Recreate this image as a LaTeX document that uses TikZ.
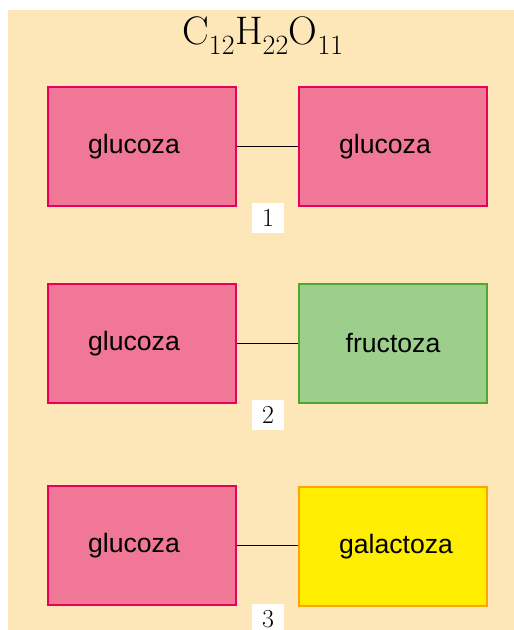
\documentclass[tikz,border=0pt]{standalone}
\usepackage{fontspec}
\newfontfamily\boxfont{Liberation Sans}
\definecolor{bgpeach}{HTML}{FDE6B8}
\definecolor{pinkfill}{HTML}{F07896}
\definecolor{pinkdraw}{HTML}{E8005A}
\definecolor{greenfill}{HTML}{9CCF8C}
\definecolor{greendraw}{HTML}{4CA832}
\definecolor{yellowfill}{HTML}{FFEE00}
\definecolor{yellowdraw}{HTML}{FFA500}
\begin{document}
\begin{tikzpicture}[x=1bp,y=-1bp,
  sugar/.style={draw, line width=2bp, minimum width=188bp, minimum height=119bp, inner sep=0pt, font=\boxfont\fontsize{26.7}{30}\selectfont, text=black},
  glc/.style={sugar, fill=pinkfill, draw=pinkdraw},
  fru/.style={sugar, fill=greenfill, draw=greendraw},
  gal/.style={sugar, fill=yellowfill, draw=yellowdraw},
  bond/.style={draw=black, line width=1.6bp},
  numlab/.style={fill=white, inner sep=0bp, minimum width=32bp, minimum height=30bp, font=\fontsize{26}{30}\selectfont}
]
\useasboundingbox (0,0) rectangle (514,630);
\fill[white] (0,0) rectangle (514,630);
\fill[bgpeach] (8,10) rectangle (514,630);
\node[font=\fontsize{40}{46}\selectfont] (title) at (263,36) {$\mathrm{C_{12}H_{22}O_{11}}$};
% row 1
\node[glc] (a1) at (142,146.5) {glucoza\hspace*{16bp}};
\node[glc] (b1) at (393,146.5) {glucoza\hspace*{16bp}};
\draw[bond] (a1.east) -- (b1.west);
\node[numlab] (n1) at (268,218) {1};
% row 2
\node[glc] (a2) at (142,343.5) {glucoza\hspace*{16bp}};
\node[fru] (b2) at (393,343.5) {fructoza};
\draw[bond] (a2.east) -- (b2.west);
\node[numlab] (n2) at (268,415) {2};
% row 3
\node[glc] (a3) at (142,545.5) {glucoza\hspace*{16bp}};
\node[gal] (b3) at (393,546.5) {\hspace*{6bp}galactoza};
\draw[bond] (a3.east) -- (a3.east -| b3.west);
\node[numlab] (n3) at (268,619) {3};
\end{tikzpicture}
\end{document}
